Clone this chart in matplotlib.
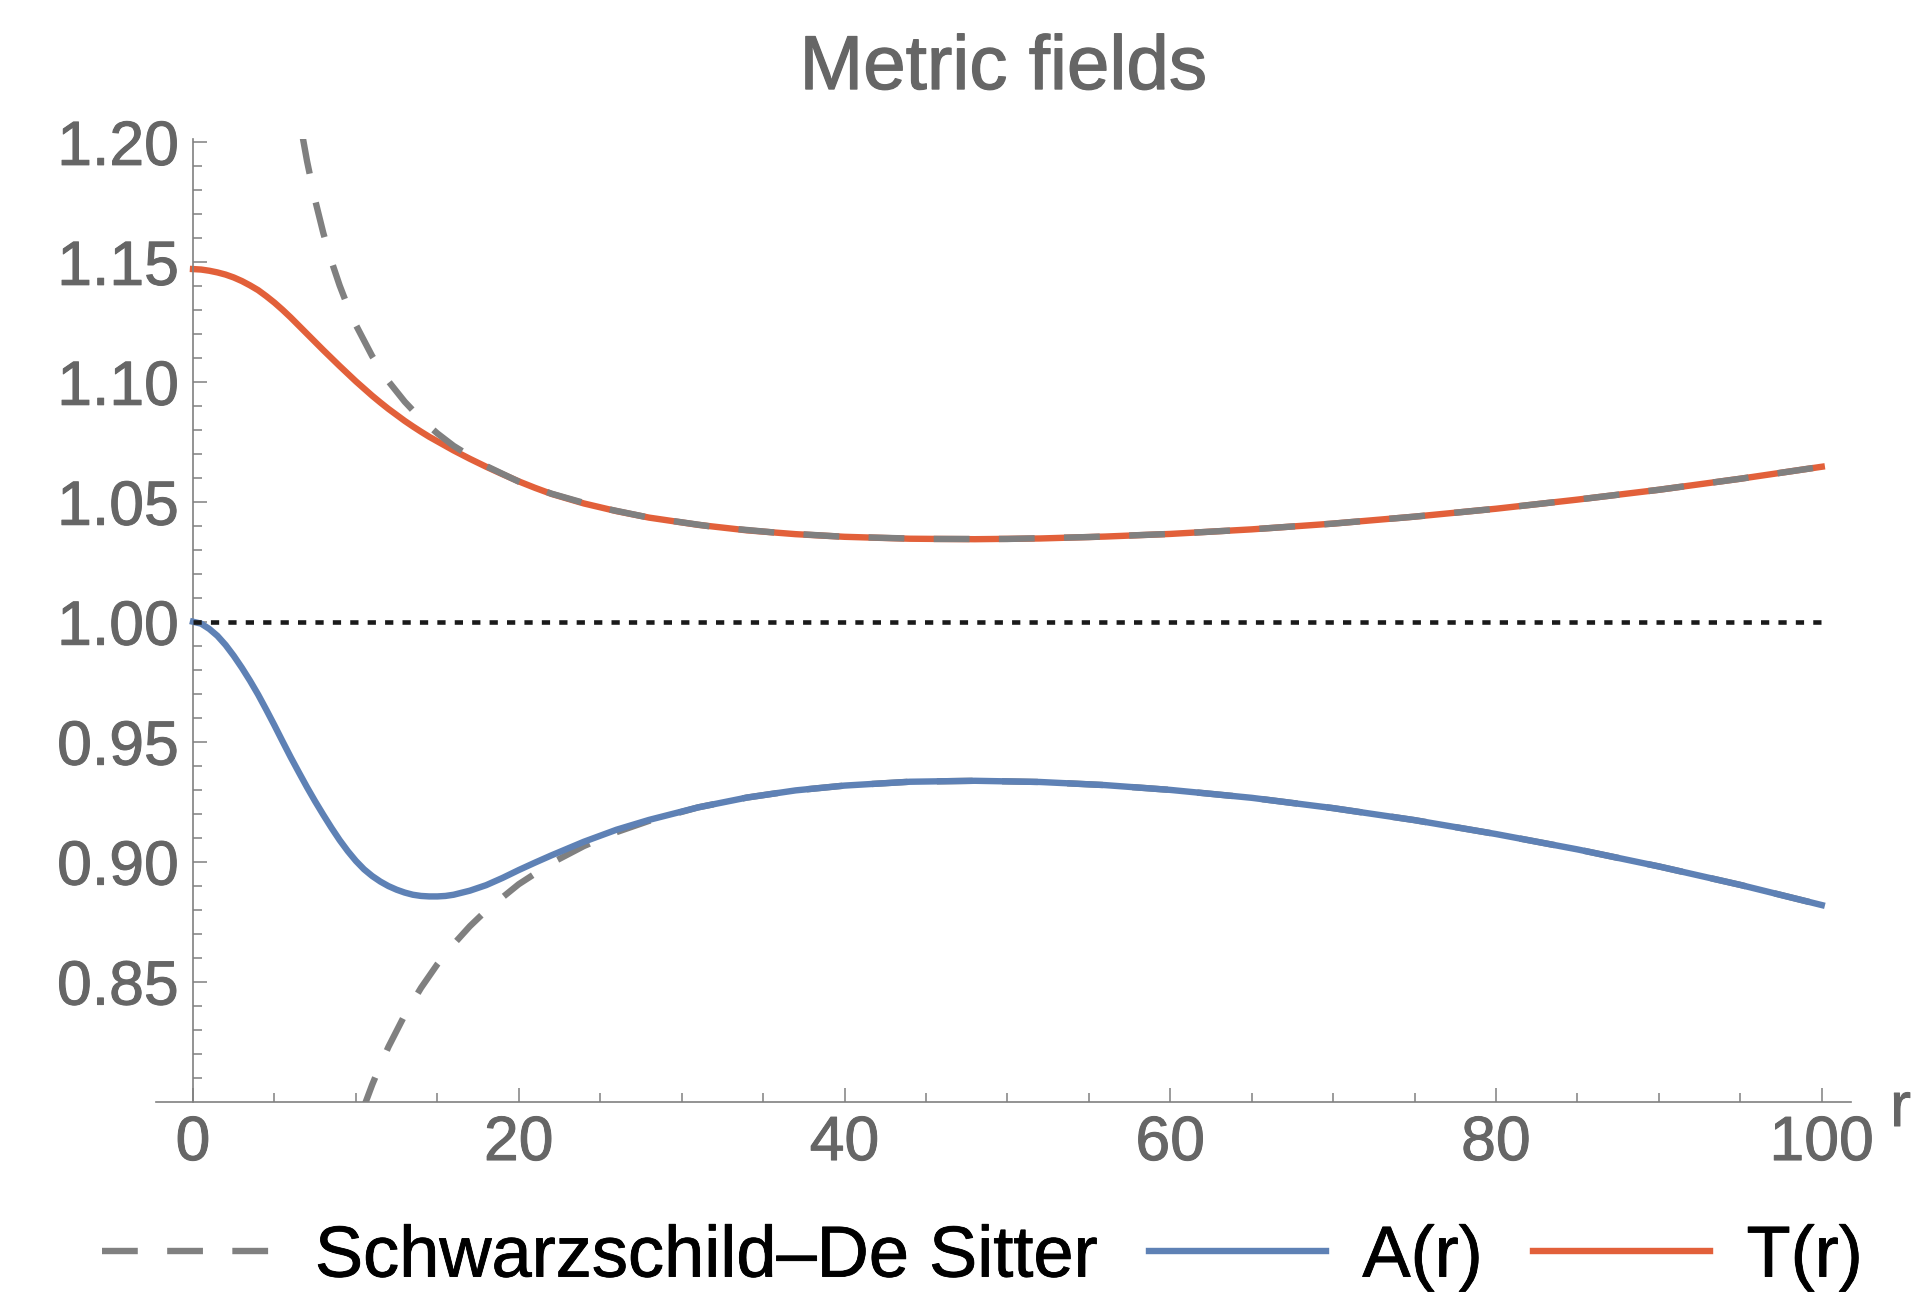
import matplotlib
matplotlib.use("Agg")
import matplotlib.pyplot as plt
import matplotlib.patheffects as pe
from matplotlib.ticker import FixedLocator, FormatStrFormatter

plt.rcParams["font.family"] = ["Liberation Sans", "DejaVu Sans"]

# Schwarzschild-De Sitter reference curves
r_sds_upper = [6.75, 7, 7.5, 8, 8.5, 9, 9.5, 10, 11, 12, 13, 14, 15, 16, 18, 20,
               22, 25, 28, 32, 36, 40, 45, 50, 55, 60, 65, 70, 75, 80, 85, 90, 95, 100]
t_sds = [1.2014, 1.1920, 1.1757, 1.1620, 1.1503, 1.1402, 1.1314, 1.1237, 1.1107,
         1.1002, 1.0917, 1.0845, 1.0785, 1.0733, 1.0649, 1.0584, 1.0534, 1.0476,
         1.0434, 1.0395, 1.0370, 1.0354, 1.0345, 1.0345, 1.0353, 1.0366, 1.0385,
         1.0409, 1.0438, 1.0471, 1.0509, 1.0550, 1.0596, 1.0646]

r_sds_lower = [10.4, 11, 11.5, 12, 13, 14, 15, 16, 17, 18, 20, 22, 24, 26, 28, 31,
               34, 37, 40, 44, 48, 52, 56, 60, 65, 70, 75, 80, 85, 90, 95, 100]
a_sds = [0.7961, 0.8070, 0.8152, 0.8228, 0.8361, 0.8474, 0.8572, 0.8656, 0.8731,
         0.8796, 0.8906, 0.8994, 0.9065, 0.9123, 0.9170, 0.9226, 0.9267, 0.9297,
         0.9317, 0.9333, 0.9337, 0.9332, 0.9319, 0.9299, 0.9266, 0.9223, 0.9173,
         0.9115, 0.9051, 0.8980, 0.8903, 0.8819]

# metric fields A(r), T(r)
r_fields = [0, 0.5, 1, 1.5, 2, 2.5, 3, 3.5, 4, 4.5, 5, 5.5, 6, 6.5, 7, 7.5, 8, 8.5,
            9, 9.5, 10, 10.5, 11, 11.5, 12, 12.5, 13, 13.5, 14, 14.5, 15, 15.5, 16,
            17, 18, 19, 20, 21, 22, 24, 26, 28, 31, 34, 37, 40, 44, 48, 52, 56, 60,
            65, 70, 75, 80, 85, 90, 95, 100]
a_field = [1.0000, 0.9992, 0.9970, 0.9941, 0.9903, 0.9858, 0.9808, 0.9754, 0.9696,
           0.9633, 0.9568, 0.9501, 0.9435, 0.9372, 0.9310, 0.9251, 0.9195, 0.9141,
           0.9090, 0.9044, 0.9003, 0.8968, 0.8940, 0.8917, 0.8898, 0.8883, 0.8871,
           0.8862, 0.8857, 0.8855, 0.8855, 0.8857, 0.8862, 0.8879, 0.8902, 0.8932,
           0.8965, 0.8996, 0.9026, 0.9083, 0.9133, 0.9174, 0.9226, 0.9267, 0.9297,
           0.9317, 0.9333, 0.9337, 0.9332, 0.9319, 0.9299, 0.9266, 0.9223, 0.9173,
           0.9115, 0.9051, 0.8980, 0.8903, 0.8819]
t_field = [1.1470, 1.1468, 1.1463, 1.1456, 1.1447, 1.1435, 1.1420, 1.1402, 1.1382,
           1.1357, 1.1330, 1.1300, 1.1268, 1.1234, 1.1200, 1.1166, 1.1132, 1.1099,
           1.1066, 1.1034, 1.1002, 1.0972, 1.0942, 1.0914, 1.0887, 1.0862, 1.0837,
           1.0814, 1.0792, 1.0771, 1.0752, 1.0733, 1.0714, 1.0679, 1.0646, 1.0615,
           1.0585, 1.0558, 1.0533, 1.0493, 1.0461, 1.0434, 1.0404, 1.0381, 1.0365,
           1.0354, 1.0346, 1.0344, 1.0347, 1.0355, 1.0366, 1.0385, 1.0409, 1.0438,
           1.0471, 1.0509, 1.0550, 1.0596, 1.0646]

flat_level = 1.0
x_major = [0, 20, 40, 60, 80, 100]
y_major = [0.85, 0.90, 0.95, 1.00, 1.05, 1.10, 1.15, 1.20]

BLUE = "#5E81B5"
ORANGE = "#E2603A"
GREY = "#808080"
TXT = "#666666"


def thicken(color, w=0.7):
    # Mathematica text is a little heavier than Liberation Sans regular
    return [pe.withStroke(linewidth=w, foreground=color)]


fig = plt.figure(figsize=(19.3, 12.97), dpi=100)
ax = fig.add_axes([0.0806, 0.1507, 0.8785, 0.7421])

lw = 4.6
dash = (5.6, 4.6)
ax.plot(r_fields, t_field, color=ORANGE, lw=lw, zorder=2, label="T(r)")
ax.plot(r_sds_upper, t_sds, color=GREY, lw=lw, dashes=dash, zorder=3,
        label="Schwarzschild\u2013De Sitter")
ax.plot(r_sds_lower, a_sds, color=GREY, lw=lw, dashes=dash, zorder=3)
ax.plot(r_fields, a_field, color=BLUE, lw=lw, zorder=4, label="A(r)")
ax.hlines(flat_level, 0, 100, colors="#1a1a1a", lw=3.3,
          linestyles=(0, (1.8, 2.0)), zorder=5)

ax.set_xlim(-2.3, 101.8)
ax.set_ylim(0.80, 1.2012)

for s in ["top", "right"]:
    ax.spines[s].set_visible(False)
ax.spines["left"].set_position(("data", 0))
for s in ["left", "bottom"]:
    ax.spines[s].set_color(GREY)
    ax.spines[s].set_linewidth(1.2)

ax.xaxis.set_major_locator(FixedLocator(x_major))
ax.xaxis.set_minor_locator(FixedLocator([v for v in range(5, 100, 5) if v % 20]))
ax.yaxis.set_major_locator(FixedLocator(y_major))
ax.yaxis.set_minor_locator(FixedLocator(
    [round(0.81 + 0.01 * i, 2) for i in range(39) if round((0.81 + 0.01 * i) * 100) % 5]))
ax.yaxis.set_major_formatter(FormatStrFormatter("%.2f"))

ax.tick_params(which="both", direction="in", color=GREY, width=1.1)
ax.tick_params(which="major", length=10, labelsize=45, labelcolor=TXT)
ax.tick_params(which="minor", length=6.5)
ax.tick_params(axis="x", which="major", pad=9)
ax.tick_params(axis="y", which="major", pad=10)
for lab in ax.get_xticklabels() + ax.get_yticklabels():
    lab.set_path_effects(thicken(TXT))

ax.text(104.2, 0.7898, "r", fontsize=45, color=TXT, ha="left", va="baseline",
        clip_on=False, path_effects=thicken(TXT))
ax.set_title("Metric fields", fontsize=55, color=TXT, pad=36,
             path_effects=thicken(TXT, 0.9))

handles, labels = ax.get_legend_handles_labels()
order = [1, 2, 0]
leg = fig.legend([handles[i] for i in order], [labels[i] for i in order],
                 loc="center", bbox_to_anchor=(0.509, 0.030), ncol=3,
                 frameon=False, fontsize=52, handlelength=2.45,
                 handletextpad=0.5, columnspacing=0.7, borderpad=0,
                 borderaxespad=0)
for t in leg.get_texts():
    t.set_path_effects(thicken("black", 0.6))

fig.savefig("out.png", dpi=100)
